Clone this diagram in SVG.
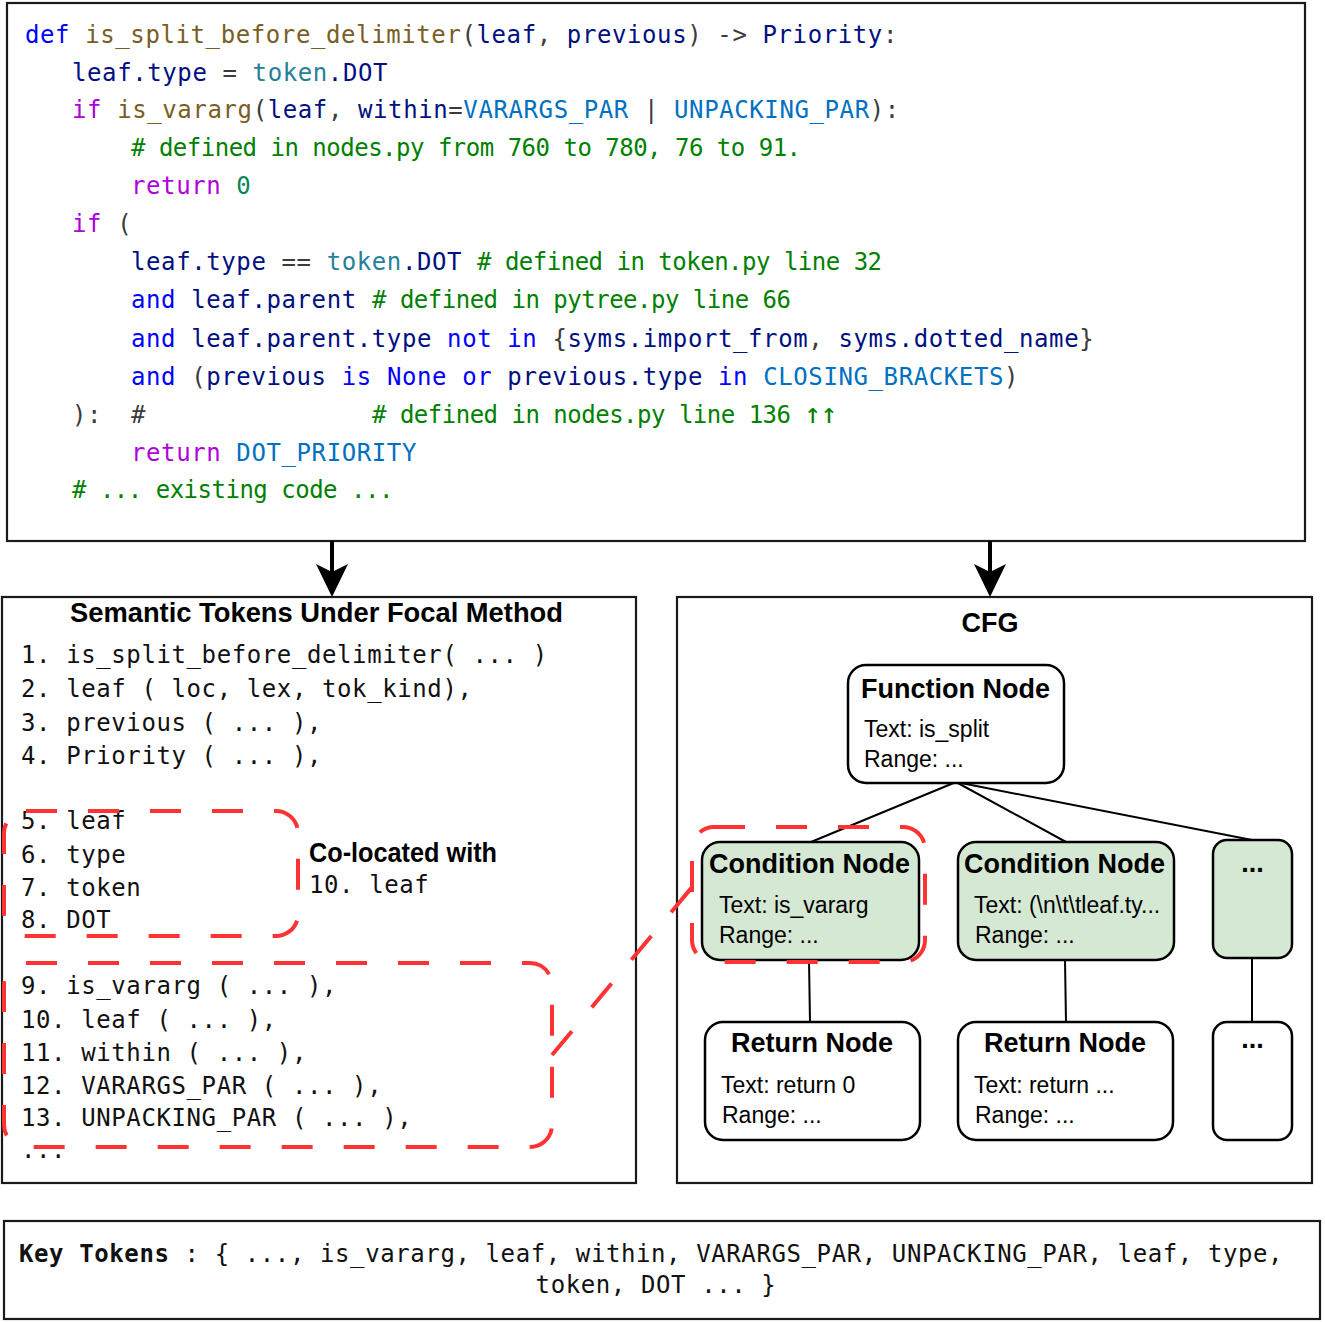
<svg xmlns="http://www.w3.org/2000/svg" width="1325" height="1322" viewBox="0 0 1325 1322" xml:space="preserve">
<style>
text{white-space:pre}
.frame{fill:#fff;stroke:#1a1a1a;stroke-width:2.2}
.mono{font-family:"DejaVu Sans Mono","Liberation Mono",monospace;font-size:24px;letter-spacing:0.6px;fill:#3b3b3b}
.tok{font-family:"DejaVu Sans Mono","Liberation Mono",monospace;font-size:24px;letter-spacing:0.6px;fill:#111}
.k{fill:#0000ff}.f{fill:#795e26}.v{fill:#001080}.t{fill:#267f99}.C{fill:#0070c1}.c{fill:#af00db}.n{fill:#098658}
.cm{fill:#008000;letter-spacing:-0.5px}
.node{stroke:#000;stroke-width:2.5;fill:#fff}
.green{fill:#d5e8d4}
.h{font-family:"Liberation Sans",Arial,sans-serif;font-weight:bold;font-size:27px;fill:#000}
.b{font-family:"Liberation Sans",Arial,sans-serif;font-size:23px;fill:#000}
.edge{stroke:#000;stroke-width:2;fill:none}
.red{fill:none;stroke:#ff3333;stroke-width:4;stroke-dasharray:31 31}
</style>
<defs>
<path id="ahead" d="M0,0 L-16,-33 L0,-25 L16,-33 Z" fill="#000"/>
</defs>

<g id="code-box">
<rect class="frame" x="7" y="3" width="1298" height="538"/>
<text class="mono" x="25" y="43"><tspan class="k">def</tspan> <tspan class="f">is_split_before_delimiter</tspan>(<tspan class="v">leaf</tspan>, <tspan class="v">previous</tspan>) -&gt; <tspan class="v">Priority</tspan>:</text>
<text class="mono" x="72" y="81"><tspan class="v">leaf.type</tspan> = <tspan class="t">token</tspan><tspan class="v">.DOT</tspan></text>
<text class="mono" x="72" y="118"><tspan class="c">if</tspan> <tspan class="f">is_vararg</tspan>(<tspan class="v">leaf</tspan>, <tspan class="v">within</tspan>=<tspan class="C">VARARGS_PAR</tspan> | <tspan class="C">UNPACKING_PAR</tspan>):</text>
<text class="mono cm" x="131" y="156"># defined in nodes.py from 760 to 780, 76 to 91.</text>
<text class="mono" x="131" y="194"><tspan class="c">return</tspan> <tspan class="n">0</tspan></text>
<text class="mono" x="72" y="232"><tspan class="c">if</tspan> (</text>
<text class="mono" x="131" y="270"><tspan class="v">leaf.type</tspan> == <tspan class="t">token</tspan><tspan class="v">.DOT</tspan></text>
<text class="mono cm" x="477" y="270"># defined in token.py line 32</text>
<text class="mono" x="131" y="308"><tspan class="k">and</tspan> <tspan class="v">leaf.parent</tspan></text>
<text class="mono cm" x="372" y="308"># defined in pytree.py line 66</text>
<text class="mono" x="131" y="347"><tspan class="k">and</tspan> <tspan class="v">leaf.parent.type</tspan> <tspan class="k">not in</tspan> {<tspan class="v">syms.import_from</tspan>, <tspan class="v">syms.dotted_name</tspan>}</text>
<text class="mono" x="131" y="385"><tspan class="k">and</tspan> (<tspan class="v">previous</tspan> <tspan class="k">is</tspan> <tspan class="k">None</tspan> <tspan class="k">or</tspan> <tspan class="v">previous.type</tspan> <tspan class="k">in</tspan> <tspan class="C">CLOSING_BRACKETS</tspan>)</text>
<text class="mono" x="72" y="423">):</text>
<text class="mono" x="131" y="423">#</text>
<text class="mono cm" x="372" y="423"># defined in nodes.py line 136 <tspan font-size="28">↑↑</tspan></text>
<text class="mono" x="131" y="461"><tspan class="c">return</tspan> <tspan class="C">DOT_PRIORITY</tspan></text>
<text class="mono cm" x="72" y="498"># ... existing code ...</text>
</g>

<g id="semantic-tokens">
<rect class="frame" x="2" y="597" width="634" height="586"/>
<text class="h" x="70" y="622" textLength="493" lengthAdjust="spacingAndGlyphs">Semantic Tokens Under Focal Method</text>
<text class="tok" x="21" y="663">1. is_split_before_delimiter( ... )</text>
<text class="tok" x="21" y="697">2. leaf ( loc, lex, tok_kind),</text>
<text class="tok" x="21" y="731">3. previous ( ... ),</text>
<text class="tok" x="21" y="764">4. Priority ( ... ),</text>
<text class="tok" x="21" y="829">5. leaf</text>
<text class="tok" x="21" y="863">6. type</text>
<text class="tok" x="21" y="896">7. token</text>
<text class="tok" x="21" y="928">8. DOT</text>
<text class="h" x="309" y="862" font-size="24" textLength="188" lengthAdjust="spacingAndGlyphs">Co-located with</text>
<text class="tok" x="309" y="893">10. leaf</text>
<text class="tok" x="21" y="994">9. is_vararg ( ... ),</text>
<text class="tok" x="21" y="1028">10. leaf ( ... ),</text>
<text class="tok" x="21" y="1061">11. within ( ... ),</text>
<text class="tok" x="21" y="1094">12. VARARGS_PAR ( ... ),</text>
<text class="tok" x="21" y="1126">13. UNPACKING_PAR ( ... ),</text>
<text class="tok" x="21" y="1158">...</text>
</g>

<g id="cfg">
<rect class="frame" x="677" y="597" width="635" height="586"/>
<text class="h" x="990" y="632" font-size="26" text-anchor="middle">CFG</text>
</g>

<g id="connectors">
<line x1="332" y1="541" x2="332" y2="575" stroke="#000" stroke-width="4"/>
<use href="#ahead" x="332" y="597"/>
<line x1="990" y1="541" x2="990" y2="575" stroke="#000" stroke-width="4"/>
<use href="#ahead" x="990" y="597"/>
<line class="edge" x1="956" y1="782" x2="811" y2="842"/>
<line class="edge" x1="956" y1="782" x2="1066" y2="842"/>
<line class="edge" x1="956" y1="782" x2="1252" y2="840"/>
<line class="edge" x1="809" y1="960" x2="810" y2="1022"/>
<line class="edge" x1="1065" y1="960" x2="1066" y2="1022"/>
<line class="edge" x1="1252" y1="958" x2="1252" y2="1022"/>
<line class="red" x1="552" y1="1055" x2="693" y2="886"/>
</g>

<g id="function-node">
<rect class="node" x="848" y="665" width="216" height="118" rx="18"/>
<text class="h" x="861" y="698">Function Node</text>
<text class="b" x="864" y="737">Text: is_split</text>
<text class="b" x="864" y="767">Range: ...</text>
</g>
<g id="condition-node-1">
<rect class="node green" x="702" y="842" width="217" height="118" rx="18"/>
<text class="h" x="709" y="873">Condition Node</text>
<text class="b" x="719" y="913">Text: is_vararg</text>
<text class="b" x="719" y="943">Range: ...</text>
</g>
<g id="condition-node-2">
<rect class="node green" x="958" y="842" width="216" height="118" rx="18"/>
<text class="h" x="964" y="873">Condition Node</text>
<text class="b" x="974" y="913">Text: (\n\t\tleaf.ty...</text>
<text class="b" x="975" y="943">Range: ...</text>
</g>
<g id="condition-node-3">
<rect class="node green" x="1213" y="840" width="79" height="118" rx="14"/>
<text class="h" x="1252.5" y="872" text-anchor="middle">...</text>
</g>
<g id="return-node-1">
<rect class="node" x="705" y="1022" width="215" height="118" rx="18"/>
<text class="h" x="731" y="1052">Return Node</text>
<text class="b" x="721" y="1093">Text: return 0</text>
<text class="b" x="722" y="1123">Range: ...</text>
</g>
<g id="return-node-2">
<rect class="node" x="958" y="1022" width="215" height="118" rx="18"/>
<text class="h" x="984" y="1052">Return Node</text>
<text class="b" x="974" y="1093">Text: return ...</text>
<text class="b" x="975" y="1123">Range: ...</text>
</g>
<g id="return-node-3">
<rect class="node" x="1213" y="1022" width="79" height="118" rx="14"/>
<text class="h" x="1252.5" y="1048" text-anchor="middle">...</text>
</g>

<g id="highlights">
<rect class="red" x="4" y="811" width="294" height="125" rx="22"/>
<rect class="red" x="4" y="963" width="548" height="184" rx="22"/>
<rect class="red" x="692" y="827" width="233" height="135" rx="22"/>
</g>

<g id="key-tokens">
<rect class="frame" x="4" y="1221" width="1316" height="98"/>
<text class="tok" x="19" y="1262"><tspan font-weight="bold">Key Tokens</tspan> : { ..., is_vararg, leaf, within, VARARGS_PAR, UNPACKING_PAR, leaf, type,</text>
<text class="tok" x="656" y="1293" text-anchor="middle">token, DOT ... }</text>
</g>
</svg>
